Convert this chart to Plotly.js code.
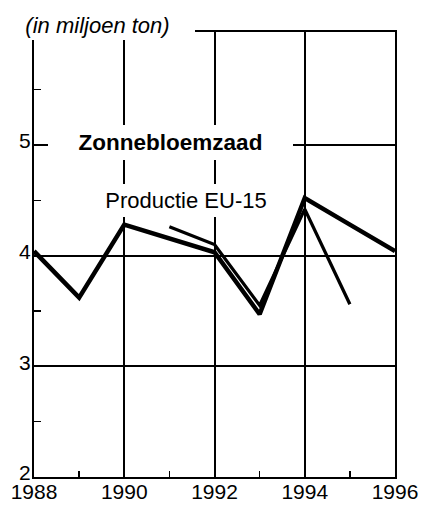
<!DOCTYPE html>
<html>
<head>
<meta charset="utf-8">
<script src="https://cdn.plot.ly/plotly-3.0.1.min.js"></script>
<style>html,body{margin:0;padding:0;background:#fff;}#chart{width:421px;height:508px;}</style>
</head>
<body>
<div id="chart"></div>
<script>
// Data (million tonnes)
const yearsA = [1988, 1989, 1990, 1991, 1992, 1993, 1994, 1995, 1996];
const valuesA = [4.04, 3.62, 4.28, 4.16, 4.03, 3.47, 4.52, 4.28, 4.04];
const yearsB = [1991, 1992, 1993, 1994, 1995];
const valuesB = [4.26, 4.10, 3.55, 4.42, 3.56];
const xTickVals = [1988, 1990, 1992, 1994, 1996];
const xTickText = ["1988", "1990", "1992", "1994", "1996"];
const yTickVals = [2, 3, 4, 5];
const yTickText = ["2", "3", "4", "5"];
const unitLabel = "(in miljoen ton)";
const chartTitle = "Zonnebloemzaad";
const seriesLabel = "Productie EU-15";

const FONT = "Liberation Sans, Arial, Helvetica, sans-serif";

const traces = [
  {x: yearsA, y: valuesA, type: "scatter", mode: "lines",
   line: {color: "#000", width: 4.5}, hoverinfo: "skip", showlegend: false},
  {x: yearsB, y: valuesB, type: "scatter", mode: "lines",
   line: {color: "#000", width: 3.3}, hoverinfo: "skip", showlegend: false}
];

const layout = {
  width: 421, height: 508,
  margin: {l: 34, r: 26, t: 32, b: 31, pad: 0},
  paper_bgcolor: "#fff", plot_bgcolor: "#fff",
  font: {family: FONT, size: 21, color: "#000"},
  showlegend: false,
  xaxis: {
    range: [1988, 1996], tickmode: "array", tickvals: xTickVals, ticktext: xTickText,
    showgrid: true, gridcolor: "#000", gridwidth: 2,
    showline: true, linecolor: "#000", linewidth: 2, mirror: true,
    ticks: "inside", ticklen: 6, tickcolor: "#000", tickwidth: 2,
    minor: {tickvals: [1989, 1991, 1993, 1995], ticks: "inside", ticklen: 6, tickcolor: "#000", tickwidth: 1.5, showgrid: false},
    ticklabelstandoff: -5,
    zeroline: false, fixedrange: true,
    tickfont: {family: FONT, size: 21, color: "#000"}
  },
  yaxis: {
    range: [2, 6.02], tickmode: "array", tickvals: yTickVals, ticktext: yTickText,
    showgrid: true, gridcolor: "#000", gridwidth: 2,
    showline: true, linecolor: "#000", linewidth: 2, mirror: true,
    ticks: "inside", ticklen: 14, tickcolor: "#000", tickwidth: 2,
    minor: {tickvals: [2.5, 3.5, 4.5, 5.5], ticks: "inside", ticklen: 7, tickcolor: "#000", tickwidth: 1.5, showgrid: false},
    ticklabelshift: -4, ticklabelstandoff: -3,
    zeroline: false, fixedrange: true,
    tickfont: {family: FONT, size: 21, color: "#000"}
  },
  annotations: [
    {text: "<i>" + unitLabel + "</i>", xref: "paper", yref: "paper",
     x: 0.1759, y: 1.0157, xanchor: "center", yanchor: "middle",
     width: 195, height: 30, bgcolor: "#fff", borderpad: 0, borderwidth: 0,
     showarrow: false, font: {family: FONT, size: 22, color: "#000"}},
    {text: "<b>" + chartTitle + "</b>", xref: "paper", yref: "paper",
     x: 0.3781, y: 0.7517, xanchor: "center", yanchor: "middle",
     width: 245, height: 35, bgcolor: "#fff", borderpad: 0, borderwidth: 0,
     showarrow: false, font: {family: FONT, size: 22.5, color: "#000"}},
    {text: seriesLabel, xref: "paper", yref: "paper",
     x: 0.4224, y: 0.6213, xanchor: "center", yanchor: "middle",
     width: 170, height: 33, bgcolor: "#fff", borderpad: 0, borderwidth: 0,
     showarrow: false, font: {family: FONT, size: 22, color: "#000"}}
  ]
};

Plotly.newPlot("chart", traces, layout, {staticPlot: true, displayModeBar: false});
</script>
</body>
</html>
